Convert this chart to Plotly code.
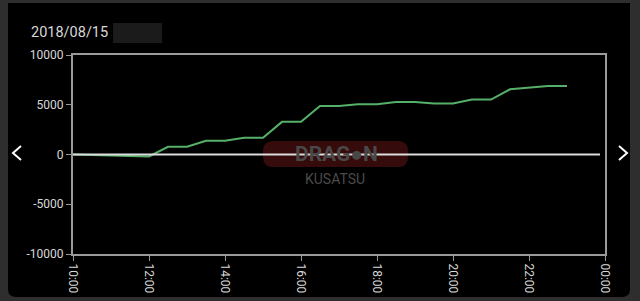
import plotly.graph_objects as go

times = ["10:00", "10:30", "11:00", "11:30", "12:00", "12:30", "13:00", "13:30",
         "14:00", "14:30", "15:00", "15:30", "16:00", "16:30", "17:00", "17:30",
         "18:00", "18:30", "19:00", "19:30", "20:00", "20:30", "21:00", "21:30",
         "22:00", "22:30", "23:00"]
values = [0, -60, -140, -200, -200, 780, 780, 1380, 1380, 1680, 1680, 3280, 3280,
          4880, 4880, 5050, 5050, 5280, 5280, 5120, 5120, 5520, 5520, 6550, 6720,
          6880, 6880]
tick_labels = ["10:00", "12:00", "14:00", "16:00", "18:00", "20:00", "22:00", "00:00"]
date_label = "2018/08/15"

x_dates = ["2018-08-15 " + t for t in times]
tick_vals = ["2018-08-15 " + t + ":00" if t != "00:00" else "2018-08-16 00:00:00" for t in tick_labels]

W, H = 640, 301
L, R, T, B = 73, 605, 55, 254


def px(x):
    return (x - L) / (R - L)


def py(y):
    return (B - y) / (B - T)


def rounded(x0, x1, y0, y1, r, top=True, bottom=True):
    rt = r if top else 0
    rb = r if bottom else 0
    p = f"M {px(x0 + rt)},{py(y0)} L {px(x1 - rt)},{py(y0)} "
    if rt:
        p += f"Q {px(x1)},{py(y0)} {px(x1)},{py(y0 + rt)} "
    p += f"L {px(x1)},{py(y1 - rb)} "
    if rb:
        p += f"Q {px(x1)},{py(y1)} {px(x1 - rb)},{py(y1)} "
    p += f"L {px(x0 + rb)},{py(y1)} "
    if rb:
        p += f"Q {px(x0)},{py(y1)} {px(x0)},{py(y1 - rb)} "
    p += f"L {px(x0)},{py(y0 + rt)} "
    if rt:
        p += f"Q {px(x0)},{py(y0)} {px(x0 + rt)},{py(y0)} "
    return p + "Z"


fig = go.Figure()
fig.add_trace(go.Scatter(x=x_dates, y=values, mode="lines",
                         line=dict(color="#55b06a", width=2), hoverinfo="skip"))

shapes = []
# black panel with rounded bottom corners
shapes.append(dict(type="path", xref="paper", yref="paper",
                   path=rounded(8, 630, 3, 297, 8, top=False),
                   fillcolor="black", line=dict(width=0), layer="below"))
# redacted box
shapes.append(dict(type="rect", xref="paper", yref="paper", x0=px(113), x1=px(162),
                   y0=py(43), y1=py(23), fillcolor="#1b1b1b", line=dict(width=0), layer="below"))
# watermark badge
shapes.append(dict(type="path", xref="paper", yref="paper",
                   path=rounded(263, 408, 141, 167, 10),
                   fillcolor="#360b0b", line=dict(width=0), layer="below"))
# zero line
shapes.append(dict(type="line", xref="paper", yref="y", x0=0, x1=px(600), y0=0, y1=0,
                   line=dict(color="#dcdcdc", width=2)))
# chevrons
shapes.append(dict(type="path", xref="paper", yref="paper",
                   path=f"M {px(21)},{py(146)} L {px(13)},{py(153)} L {px(21)},{py(160)}",
                   line=dict(color="white", width=2)))
shapes.append(dict(type="path", xref="paper", yref="paper",
                   path=f"M {px(619)},{py(146)} L {px(627)},{py(153)} L {px(619)},{py(160)}",
                   line=dict(color="white", width=2)))

annotations = [
    dict(text=date_label, xref="paper", yref="paper", x=px(29), y=py(33),
         xanchor="left", yanchor="middle", showarrow=False,
         font=dict(family="Roboto", size=14.5, color="#d8d8d8")),
    dict(text="<b>DRAG\u25CFN</b>", xref="paper", yref="paper", x=px(336), y=py(154),
         xanchor="center", yanchor="middle", showarrow=False,
         font=dict(family="Roboto", size=21, color="#484848")),
    dict(text="KUSATSU", xref="paper", yref="paper", x=px(335), y=py(179),
         xanchor="center", yanchor="middle", showarrow=False,
         font=dict(family="Roboto", size=14, color="#4a4a4a")),
]

tickfont = dict(family="Roboto", size=12, color="#d8d8d8")

fig.update_layout(
    width=W, height=H,
    margin=dict(l=L, r=W - R, t=T, b=H - B),
    paper_bgcolor="#2e2e2e",
    plot_bgcolor="rgba(0,0,0,0)",
    showlegend=False,
    shapes=shapes,
    annotations=annotations,
    xaxis=dict(
        type="date",
        range=["2018-08-15 10:00", "2018-08-16 00:00"],
        tickvals=tick_vals, ticktext=tick_labels, tickangle=90,
        showgrid=False, zeroline=False, automargin=False,
        showline=True, linecolor="#9a9a9a", linewidth=2, mirror=True,
        ticks="outside", ticklen=5, tickcolor="#9a9a9a",
        tickfont=tickfont,
        fixedrange=True,
    ),
    yaxis=dict(
        range=[-10000, 10000],
        tickvals=[-10000, -5000, 0, 5000, 10000],
        ticktext=["-10000", "-5000", "0", "5000", "10000"],
        showgrid=False, zeroline=False, automargin=False,
        showline=True, linecolor="#9a9a9a", linewidth=2, mirror=True,
        ticks="outside", ticklen=5, tickcolor="#9a9a9a",
        tickfont=tickfont,
        fixedrange=True,
    ),
)

fig.write_html("out.html", config={"displayModeBar": False})
